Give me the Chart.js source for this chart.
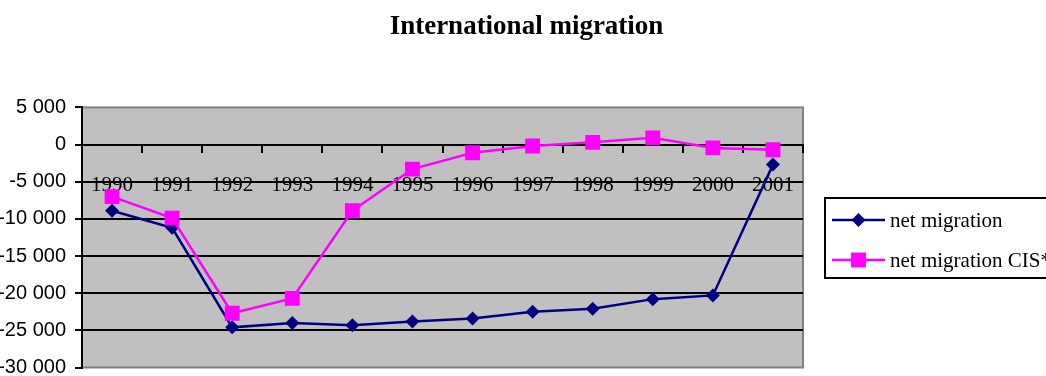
<!DOCTYPE html>
<html>
<head>
<meta charset="utf-8">
<title>International migration</title>
<script src="https://cdn.jsdelivr.net/npm/chart.js@4/dist/chart.umd.min.js"></script>
<style>
  html, body { margin: 0; padding: 0; background: #fff; overflow: hidden; }
  #wrap { width: 1053px; height: 378px; }
</style>
</head>
<body>
<div id="wrap"><canvas id="chart" width="1053" height="378"></canvas></div>
<script>
// Years on the category axis
const years = ['1990', '1991', '1992', '1993', '1994', '1995', '1996', '1997', '1998', '1999', '2000', '2001'];

// Net migration, persons per year
const netMigration = [-8900, -11200, -24600, -24000, -24300, -23800, -23400, -22500, -22100, -20800, -20300, -2700];

// Net migration with CIS countries
const netMigrationCIS = [-7000, -9900, -22700, -20700, -8900, -3300, -1100, -200, 300, 900, -450, -700];

// Value axis range and step
const yMin = -30000;
const yMax = 5000;
const yStep = 5000;

const seriesNames = ['net migration', 'net migration CIS*'];

const NAVY = '#000080';
const MAGENTA = '#FF00FF';

// "-25 000" style thousands grouping
function groupThousands(v) {
  const sign = v < 0 ? '-' : '';
  const s = String(Math.abs(v));
  return sign + s.replace(/\B(?=(\d{3})+(?!\d))/g, ' ');
}

// Grey plot area with a thin grey frame
const plotFrame = {
  id: 'plotFrame',
  beforeDraw(chart) {
    const { ctx, chartArea: a } = chart;
    ctx.save();
    ctx.fillStyle = '#C0C0C0';
    ctx.fillRect(a.left, a.top, a.right - a.left, a.bottom - a.top);
    ctx.strokeStyle = '#808080';
    ctx.lineWidth = 2;
    ctx.strokeRect(a.left, a.top, a.right - a.left, a.bottom - a.top);
    ctx.restore();
  }
};

function drawMarker(ctx, style, x, y, r, color) {
  ctx.fillStyle = color;
  ctx.beginPath();
  if (style === 'rect') {
    const s = r * Math.SQRT1_2;
    ctx.rect(x - s, y - s, 2 * s, 2 * s);
  } else {
    ctx.moveTo(x, y - r);
    ctx.lineTo(x + r, y);
    ctx.lineTo(x, y + r);
    ctx.lineTo(x - r, y);
    ctx.closePath();
  }
  ctx.fill();
}

// Boxed legend: line with marker, then the series name
const boxedLegend = {
  id: 'boxedLegend',
  afterDraw(chart) {
    const { ctx } = chart;
    const box = { x: 825, y: 198, w: 240, h: 80 };
    ctx.save();
    ctx.strokeStyle = '#000';
    ctx.lineWidth = 2;
    ctx.strokeRect(box.x, box.y, box.w, box.h);
    chart.data.datasets.slice().sort((p, q) => p.legendIndex - q.legendIndex).forEach((ds, i) => {
      const cy = 220 + i * 40;
      ctx.strokeStyle = ds.borderColor;
      ctx.lineWidth = 2.5;
      ctx.beginPath();
      ctx.moveTo(832, cy);
      ctx.lineTo(885, cy);
      ctx.stroke();
      drawMarker(ctx, ds.pointStyle, 858.5, cy, ds.pointRadius, ds.backgroundColor);
      ctx.fillStyle = '#000';
      ctx.font = '21px "Liberation Serif", "Times New Roman", serif';
      ctx.textBaseline = 'middle';
      ctx.textAlign = 'left';
      ctx.fillText(ds.label, 890, cy + 1);
    });
    ctx.restore();
  }
};

new Chart(document.getElementById('chart'), {
  type: 'line',
  data: {
    labels: years,
    datasets: [
      {
        label: seriesNames[0],
        legendIndex: 0,
        data: netMigration,
        borderColor: NAVY,
        backgroundColor: NAVY,
        borderWidth: 2.5,
        pointStyle: 'rectRot',
        pointRadius: 7,
        pointBorderWidth: 0,
        pointBackgroundColor: NAVY,
        pointBorderColor: NAVY,
        tension: 0,
        order: 1
      },
      {
        label: seriesNames[1],
        legendIndex: 1,
        data: netMigrationCIS,
        borderColor: MAGENTA,
        backgroundColor: MAGENTA,
        borderWidth: 2.5,
        pointStyle: 'rect',
        pointRadius: 10.5,
        pointBorderWidth: 0,
        pointBackgroundColor: MAGENTA,
        pointBorderColor: MAGENTA,
        tension: 0,
        order: 0
      }
    ]
  },
  options: {
    responsive: false,
    animation: false,
    devicePixelRatio: 1,
    layout: { padding: { left: 0, right: 0, top: 0, bottom: 0 } },
    plugins: {
      legend: { display: false },
      tooltip: { enabled: false },
      title: {
        display: true,
        text: 'International migration',
        color: '#000',
        font: { family: '"Liberation Serif", "Times New Roman", serif', size: 27, weight: 'bold' },
        padding: { top: 11, bottom: 64 }
      }
    },
    scales: {
      x: {
        type: 'category',
        position: { y: 0 },
        offset: true,
        grid: {
          drawOnChartArea: false,
          drawTicks: true,
          tickLength: 7,
          color: '#000',
          lineWidth: 2,
          offset: true
        },
        border: { display: true, color: '#000', width: 2 },
        ticks: {
          color: '#000',
          font: { family: '"Liberation Serif", "Times New Roman", serif', size: 21 },
          padding: 21,
          maxRotation: 0,
          autoSkip: false
        }
      },
      y: {
        min: yMin,
        max: yMax,
        afterFit(scale) {
          scale.width = 82;
          scale.paddingBottom = 6;
        },
        grid: {
          color: (c) => (c.tick && (c.tick.value === yMax || c.tick.value === yMin)) ? 'rgba(0,0,0,0)' : '#000',
          tickColor: '#000',
          lineWidth: 2,
          drawTicks: true,
          tickLength: 7
        },
        border: { display: true, color: '#000', width: 2 },
        ticks: {
          stepSize: yStep,
          color: '#000',
          padding: 9,
          font: { family: '"Liberation Sans", Arial, sans-serif', size: 20 },
          callback: (v) => groupThousands(v)
        }
      },
      // empty strip on the right that leaves room for the legend box
      legendRoom: {
        type: 'linear',
        position: 'right',
        display: true,
        grid: { display: false },
        border: { display: false },
        ticks: { display: false },
        afterFit(scale) {
          scale.width = 250;
          scale.paddingTop = 0;
          scale.paddingBottom = 0;
        }
      }
    }
  },
  plugins: [plotFrame, boxedLegend]
});
</script>
</body>
</html>
